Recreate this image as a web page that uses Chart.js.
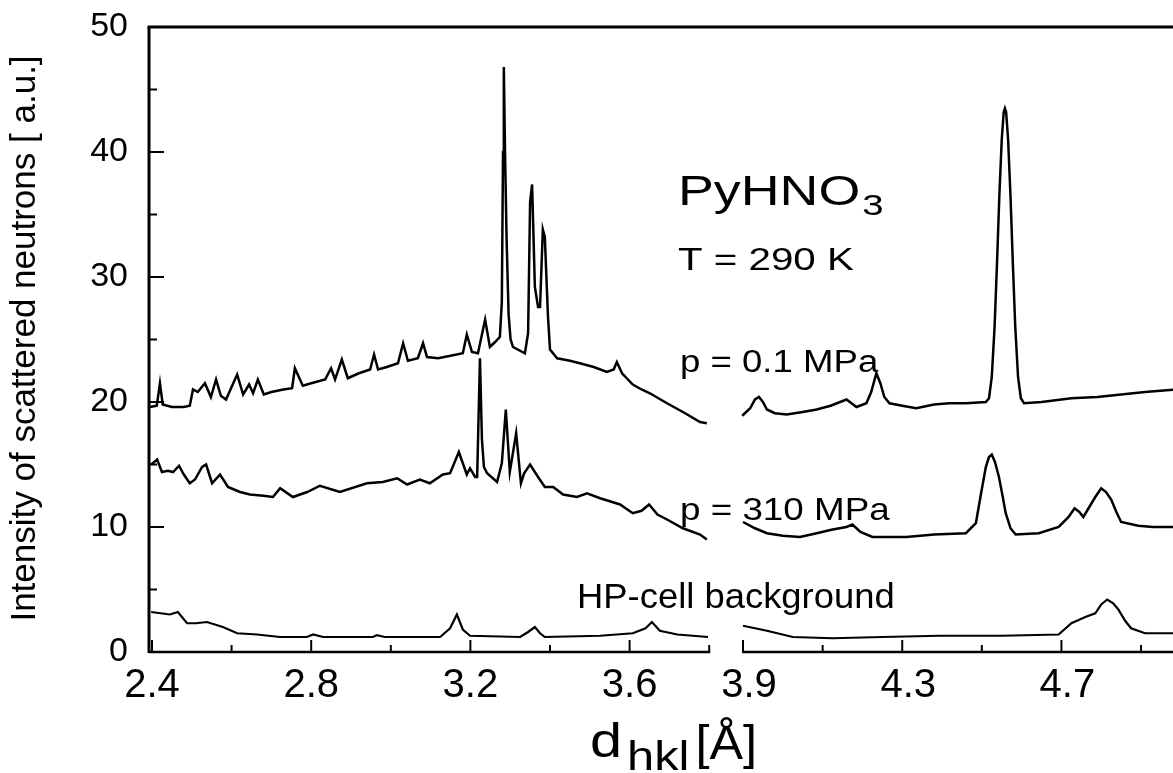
<!DOCTYPE html>
<html><head><meta charset="utf-8">
<script src="https://cdn.jsdelivr.net/npm/chart.js@4.4.1/dist/chart.umd.min.js"></script>
<style>html,body{margin:0;padding:0;background:#fff}#c{display:block}</style>
</head><body>
<canvas id="c" width="1173" height="773"></canvas>
<script>
// ---- Data (d-spacing in Å, intensity in a.u.) ----
// p = 0.1 MPa, segment below the axis break
const d01Low = [2.395,2.412,2.420,2.427,2.450,2.480,2.495,2.503,2.515,2.533,2.548,2.561,2.573,2.586,2.614,2.629,2.644,2.654,2.666,2.681,2.700,2.730,2.752,2.759,2.779,2.800,2.835,2.850,2.860,2.877,2.892,2.920,2.948,2.958,2.968,2.990,3.018,3.031,3.043,3.068,3.081,3.091,3.119,3.150,3.181,3.191,3.204,3.219,3.237,3.249,3.262,3.274,3.279,3.282,3.284,3.287,3.291,3.296,3.301,3.307,3.337,3.345,3.350,3.355,3.362,3.370,3.375,3.382,3.387,3.395,3.400,3.418,3.450,3.475,3.510,3.543,3.560,3.568,3.581,3.608,3.630,3.651,3.694,3.734,3.777,3.794];
const i01Low = [19.6,19.7,21.5,19.8,19.6,19.6,19.7,21.0,20.8,21.5,20.4,21.8,20.5,20.2,22.2,20.6,21.4,20.7,21.8,20.6,20.8,21.0,21.1,22.7,21.3,21.5,21.8,22.7,21.8,23.4,21.9,22.3,22.6,23.8,22.6,22.8,23.1,24.7,23.3,23.5,24.7,23.6,23.5,23.7,23.9,25.4,24.0,23.9,26.6,24.4,24.8,25.2,28.0,40.0,46.8,40.0,33.0,27.0,25.0,24.4,23.9,25.5,36.0,37.4,29.2,27.6,27.6,33.8,33.2,26.8,24.2,23.5,23.3,23.1,22.8,22.4,22.6,23.2,22.3,21.4,21.0,20.7,19.9,19.2,18.4,18.3];
// p = 0.1 MPa, segment above the axis break
const d01High = [3.898,3.918,3.930,3.940,3.950,3.960,3.980,4.010,4.050,4.085,4.120,4.160,4.185,4.210,4.222,4.235,4.245,4.255,4.268,4.300,4.335,4.380,4.418,4.460,4.510,4.518,4.525,4.532,4.538,4.544,4.550,4.555,4.558,4.561,4.566,4.572,4.578,4.584,4.591,4.598,4.606,4.650,4.725,4.790,4.850,4.910,4.985];
const i01High = [18.9,19.5,20.2,20.4,20.0,19.4,19.1,19.0,19.2,19.4,19.7,20.2,19.6,19.9,20.8,22.3,21.5,20.4,19.9,19.7,19.5,19.8,19.9,19.9,20.0,20.3,22.0,26.0,31.0,36.5,41.0,43.2,43.5,43.2,41.0,36.5,31.0,26.0,22.0,20.3,19.9,20.0,20.3,20.4,20.6,20.8,21.0];
// p = 310 MPa
const d310Low = [2.398,2.413,2.425,2.440,2.453,2.468,2.480,2.495,2.508,2.526,2.536,2.551,2.571,2.591,2.621,2.646,2.680,2.704,2.722,2.754,2.790,2.822,2.872,2.940,2.980,3.016,3.041,3.073,3.098,3.131,3.149,3.171,3.181,3.191,3.199,3.212,3.217,3.224,3.229,3.234,3.242,3.267,3.279,3.289,3.299,3.315,3.327,3.335,3.350,3.370,3.387,3.408,3.433,3.468,3.493,3.526,3.576,3.608,3.630,3.649,3.670,3.694,3.734,3.777,3.794];
const i310Low = [15.0,15.4,14.4,14.5,14.4,14.9,14.2,13.5,13.8,14.8,15.0,13.5,14.2,13.2,12.8,12.6,12.5,12.4,13.1,12.4,12.8,13.3,12.8,13.5,13.6,13.9,13.4,13.8,13.5,14.2,14.3,16.0,15.1,14.2,14.7,14.0,14.0,23.5,17.0,14.8,14.3,13.6,15.1,19.4,14.4,17.5,13.5,14.3,15.0,14.0,13.2,13.2,12.6,12.4,12.7,12.3,11.8,11.1,11.3,11.8,11.0,10.6,9.9,9.4,9.0];
const d310High = [3.900,3.930,3.960,4.000,4.043,4.085,4.125,4.160,4.175,4.195,4.225,4.270,4.310,4.380,4.460,4.485,4.497,4.510,4.518,4.525,4.533,4.543,4.552,4.560,4.572,4.585,4.643,4.693,4.718,4.733,4.745,4.755,4.785,4.800,4.812,4.825,4.838,4.850,4.893,4.930,4.985];
const i310High = [10.4,9.9,9.5,9.3,9.2,9.5,9.8,10.0,10.2,9.6,9.2,9.2,9.2,9.4,9.5,10.3,12.5,14.8,15.6,15.8,15.2,14.0,12.5,11.1,9.9,9.4,9.5,10.0,10.8,11.5,11.2,10.8,12.4,13.1,12.8,12.2,11.2,10.4,10.1,10.0,10.0];
// HP-cell background
const dBgLow = [2.398,2.445,2.465,2.488,2.510,2.538,2.578,2.614,2.664,2.722,2.789,2.805,2.830,2.955,2.965,2.985,3.124,3.149,3.166,3.181,3.199,3.325,3.345,3.362,3.375,3.387,3.526,3.608,3.640,3.656,3.676,3.720,3.797];
const iBgLow = [3.2,3.0,3.2,2.3,2.3,2.4,2.0,1.5,1.4,1.2,1.2,1.4,1.2,1.2,1.35,1.2,1.2,1.9,3.0,1.8,1.3,1.2,1.6,2.0,1.5,1.2,1.3,1.5,1.9,2.4,1.7,1.4,1.2];
const dBgHigh = [3.900,3.960,4.025,4.125,4.250,4.393,4.550,4.693,4.725,4.760,4.785,4.800,4.815,4.830,4.843,4.860,4.875,4.910,4.985];
const iBgHigh = [2.1,1.7,1.2,1.1,1.2,1.3,1.3,1.4,2.3,2.8,3.1,3.8,4.2,3.9,3.4,2.5,1.9,1.5,1.5];

// ---- Tick labels ----
const xTickLabels = [2.4, 2.8, 3.2, 3.6, 3.9, 4.3, 4.7];
const xMajorLow = [2.4, 2.8, 3.2, 3.6];
const xMinorLow = [2.6, 3.0, 3.4, 3.8];
const xMajorHigh = [3.9, 4.3, 4.7];
const xMinorHigh = [4.1, 4.5, 4.9];
const yMajor = [10, 20, 30, 40];
const yMinor = [5, 15, 25, 35, 45];

// ---- Layout helpers ----
const FONT = '"Liberation Sans", Arial, Helvetica, sans-serif';
const BREAK_SHIFT = 0.015;          // the axis is slightly compressed across the break
const toAxis = d => d >= 3.85 ? d - BREAK_SHIFT : d;

function series(dL, iL, dH, iH) {
  const pts = dL.map((d, k) => ({ x: toAxis(d), y: iL[k] }));
  pts.push({ x: 3.84, y: null });
  dH.forEach((d, k) => pts.push({ x: toAxis(d), y: iH[k] }));
  return pts;
}

function txt(ctx, s, x, y, size, sx, align) {
  ctx.save();
  ctx.font = size + 'px ' + FONT;
  ctx.textAlign = align || 'left';
  ctx.textBaseline = 'alphabetic';
  ctx.translate(x, y);
  ctx.scale(sx, 1);
  ctx.fillText(s, 0, 0);
  const w = ctx.measureText(s).width * sx;
  ctx.restore();
  return w;
}

const decor = {
  id: 'decor',
  afterDraw(chart) {
    const ctx = chart.ctx, xs = chart.scales.x, ys = chart.scales.y, a = chart.chartArea;
    const X = d => xs.getPixelForValue(toAxis(d));
    const Xu = u => xs.getPixelForValue(u);
    const Y = v => ys.getPixelForValue(v);
    const ln = (x1, y1, x2, y2) => { ctx.beginPath(); ctx.moveTo(x1, y1); ctx.lineTo(x2, y2); ctx.stroke(); };
    ctx.save();
    ctx.strokeStyle = '#000'; ctx.fillStyle = '#000'; ctx.lineCap = 'butt';
    // frame: top and left
    ctx.lineWidth = 3;
    ln(a.left - 1.5, a.top, a.right, a.top);
    ln(a.left, a.top, a.left, a.bottom + 1);
    // broken bottom axis
    ctx.lineWidth = 2.5;
    ln(a.left, a.bottom, X(3.8) + 1, a.bottom);
    ln(X(3.9) - 1, a.bottom, a.right, a.bottom);
    // x ticks (pointing inwards)
    ctx.lineWidth = 2;
    [...xMajorLow, ...xMajorHigh].forEach(d => ln(X(d), a.bottom, X(d), a.bottom - 12));
    [...xMinorLow, ...xMinorHigh].forEach(d => ln(X(d), a.bottom, X(d), a.bottom - 7));
    // y ticks
    yMajor.forEach(v => ln(a.left, Y(v), a.left + 15, Y(v)));
    yMinor.forEach(v => ln(a.left, Y(v), a.left + 8, Y(v)));

    // annotations (placed in data coordinates)
    let w = txt(ctx, 'PyHNO', Xu(3.7216), Y(35.76), 42, 1.28);
    txt(ctx, '3', Xu(3.7216) + w + 2, Y(34.96), 30, 1.28);
    txt(ctx, 'T = 290 K', Xu(3.7216), Y(30.56), 31, 1.30);
    txt(ctx, 'p = 0.1 MPa', Xu(3.7266), Y(22.4), 31, 1.18);
    txt(ctx, 'p = 310 MPa', Xu(3.7266), Y(10.56), 32, 1.15);
    txt(ctx, 'HP-cell background', Xu(3.4679), Y(3.52), 35, 1.04);

    // x-axis title
    w = txt(ctx, 'd', 590, 757, 48, 1.2);
    let w2 = txt(ctx, 'hkl', 590 + w + 5, 770, 40, 1.22);
    txt(ctx, '[Å]', 590 + w + 5 + w2 + 6, 759, 48, 1.05);

    // y-axis title
    ctx.save();
    ctx.translate(35, 338.5);
    ctx.rotate(-Math.PI / 2);
    ctx.font = '35px ' + FONT;
    ctx.textAlign = 'center';
    ctx.textBaseline = 'alphabetic';
    ctx.fillText('Intensity of scattered neutrons [ a.u.]', 0, 0);
    ctx.restore();
    ctx.restore();
  }
};

const lineStyle = { borderColor: '#000', borderWidth: 2.5, pointRadius: 0, pointHoverRadius: 0, pointBorderWidth: 0, tension: 0, fill: false, spanGaps: false };

new Chart(document.getElementById('c'), {
  type: 'line',
  data: {
    datasets: [
      { label: 'p = 0.1 MPa', data: series(d01Low, i01Low, d01High, i01High), ...lineStyle },
      { label: 'p = 310 MPa', data: series(d310Low, i310Low, d310High, i310High), ...lineStyle },
      { label: 'HP-cell background', data: series(dBgLow, iBgLow, dBgHigh, iBgHigh), ...lineStyle, borderWidth: 2.2 }
    ]
  },
  options: {
    responsive: false,
    animation: false,
    devicePixelRatio: 1,
    layout: { autoPadding: false, padding: { left: 0, top: 27, right: 0, bottom: 0 } },
    plugins: { legend: { display: false }, tooltip: { enabled: false } },
    scales: {
      x: {
        type: 'linear', min: 2.3925, max: 4.9653,
        grid: { display: false, drawTicks: false }, border: { display: false },
        afterBuildTicks: s => { s.ticks = xTickLabels.map(v => ({ value: v })); },
        afterFit: s => { s.height = 121; s.paddingLeft = 0; s.paddingRight = 0; },
        ticks: { font: { family: FONT, size: 40 }, color: '#000', padding: 10, maxRotation: 0, autoSkip: false,
                 callback: v => Number(v).toFixed(1) }
      },
      y: {
        type: 'linear', min: 0, max: 50,
        grid: { display: false, drawTicks: false }, border: { display: false },
        afterFit: s => { s.width = 149; s.paddingTop = 0; s.paddingBottom = 0; },
        ticks: { stepSize: 10, font: { family: FONT, size: 34 }, color: '#000', padding: 21 }
      }
    }
  },
  plugins: [decor]
});
</script>
</body></html>
